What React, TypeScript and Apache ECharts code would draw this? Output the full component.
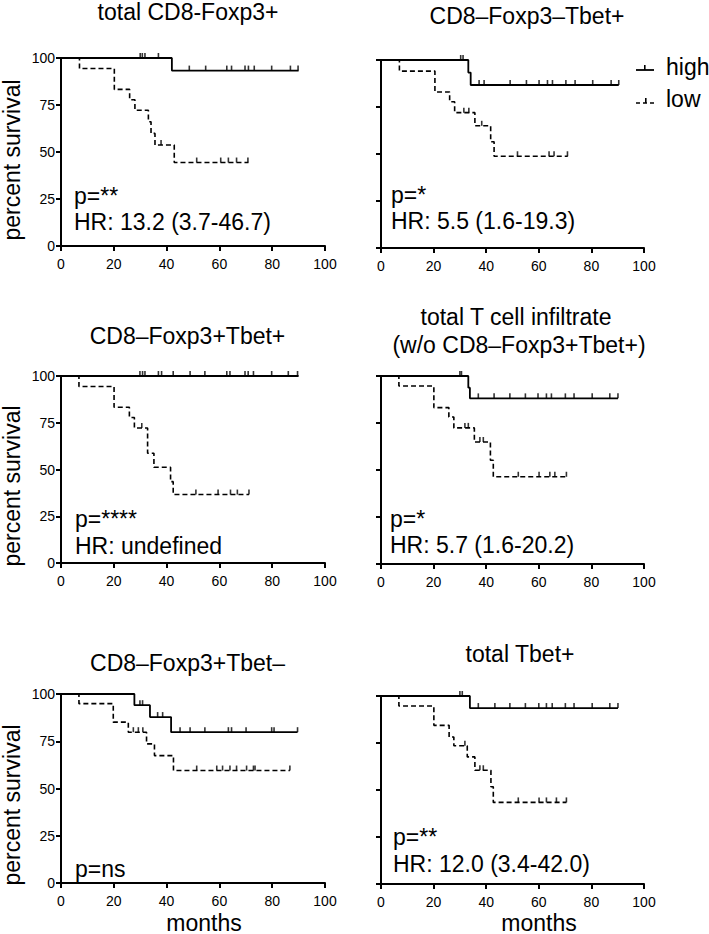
import React, { useEffect, useRef } from "react";
import * as echarts from "echarts";

// ---------- DATA ----------
const xTicks = [0, 20, 40, 60, 80, 100];
const yTicks = [0, 25, 50, 75, 100];

const panelTitles = [
  ["total CD8-Foxp3+"],
  ["CD8–Foxp3–Tbet+"],
  ["CD8–Foxp3+Tbet+"],
  ["total T cell infiltrate", "(w/o CD8–Foxp3+Tbet+)"],
  ["CD8–Foxp3+Tbet–"],
  ["total Tbet+"],
];
const pValues = ["p=**", "p=*", "p=****", "p=*", "p=ns", "p=**"];
const hrValues = ["HR: 13.2 (3.7-46.7)", "HR: 5.5 (1.6-19.3)", "HR: undefined", "HR: 5.7 (1.6-20.2)", "", "HR: 12.0 (3.4-42.0)"];
const legendNames = ["high", "low"];

// panel 1: total CD8-Foxp3+
const p1High = [[0, 100], [42, 93.3], [90, 93.3]];
const p1HighCens = [[30, 100], [30.8, 100], [31.8, 100], [36.9, 100], [48.6, 93.3], [54.8, 93.3], [62.8, 93.3], [64.6, 93.3], [69.7, 93.3], [71, 93.3], [73.2, 93.3], [79.8, 93.3], [86.9, 93.3], [89.8, 93.3]];
const p1Low = [[0, 100], [7, 94.4], [20.2, 83.3], [26, 77.8], [28, 72.2], [33.1, 66.1], [34.1, 59.9], [35.6, 53.7], [42.9, 44.4], [71, 44.4]];
const p1LowCens = [[37.9, 53.7], [51.4, 44.4], [60.5, 44.4], [63.4, 44.4], [66.5, 44.4], [70.8, 44.4]];

// panel 2: CD8–Foxp3–Tbet+
const p2High = [[0, 100], [33.2, 93.3], [34.1, 86.7], [90.4, 86.7]];
const p2HighCens = [[30.3, 100], [31.2, 100], [37.3, 86.7], [39.2, 86.7], [49.1, 86.7], [55.3, 86.7], [60.1, 86.7], [63.3, 86.7], [65.2, 86.7], [70.3, 86.7], [73.8, 86.7], [80.5, 86.7], [87.5, 86.7], [90.4, 86.7]];
const p2Low = [[0, 100], [7, 94.1], [20.5, 83], [26.1, 77.8], [28, 72], [35.7, 65], [41.7, 56.5], [43, 48.8], [71, 48.8]];
const p2LowCens = [[31.5, 72], [33.4, 72], [38.3, 65], [51.9, 48.8], [63.9, 48.8], [65.8, 48.8], [70.9, 48.8]];

// panel 3: CD8–Foxp3+Tbet+
const p3High = [[0, 100], [90, 100]];
const p3HighCens = [[29.9, 100], [30.9, 100], [31.8, 100], [36.9, 100], [38.1, 100], [42.5, 100], [48.9, 100], [54.5, 100], [62.8, 100], [64, 100], [69.7, 100], [70.9, 100], [72.9, 100], [79.8, 100], [86.1, 100], [89.6, 100]];
const p3Low = [[0, 100], [6.8, 94.4], [20.1, 83.3], [25.9, 77.8], [27.8, 72.2], [32.8, 58.7], [35.2, 51.2], [41.5, 43.5], [42.5, 36.6], [71.2, 36.6]];
const p3LowCens = [[30.6, 72.2], [51.1, 36.6], [59.5, 36.6], [64.2, 36.6], [66.8, 36.6], [71.2, 36.6]];

// panel 4: total T cell infiltrate
const p4High = [[0, 100], [33.2, 93.8], [33.8, 88.1], [90.1, 88.1]];
const p4HighCens = [[30, 100], [30.6, 100], [37, 88.1], [43, 88.1], [49, 88.1], [54.9, 88.1], [59.7, 88.1], [62.9, 88.1], [64.8, 88.1], [70.1, 88.1], [73.4, 88.1], [80.3, 88.1], [87, 88.1], [90.1, 88.1]];
const p4Low = [[0, 100], [6.8, 94.7], [20.1, 83.2], [25.8, 78.2], [27.7, 72.4], [35.5, 64.9], [41.6, 55.2], [42.7, 46.4], [70.5, 46.4]];
const p4LowCens = [[31.9, 72.4], [33.2, 72.4], [37.6, 64.9], [38.9, 64.9], [52.2, 46.4], [60.1, 46.4], [64.2, 46.4], [66.1, 46.4], [70.5, 46.4]];

// panel 5: CD8–Foxp3+Tbet–
const p5High = [[0, 100], [27.8, 94.1], [33.7, 87.8], [41.7, 79.8], [89.6, 79.8]];
const p5HighCens = [[29.9, 94.1], [30.9, 94.1], [36.6, 87.8], [38.5, 87.8], [45.1, 79.8], [48.9, 79.8], [54.5, 79.8], [63.4, 79.8], [64.6, 79.8], [70.1, 79.8], [79.8, 79.8], [80.7, 79.8], [89.6, 79.8]];
const p5Low = [[0, 100], [6.8, 94.9], [19.8, 85.1], [25.5, 79.8], [32.4, 73.6], [35.4, 67.4], [42.6, 59.5], [86.7, 59.5]];
const p5LowCens = [[27.4, 79.8], [29.3, 79.8], [31, 79.8], [51.4, 59.5], [59, 59.5], [61.2, 59.5], [64, 59.5], [66.5, 59.5], [70.3, 59.5], [72.9, 59.5], [73.5, 59.5], [86.7, 59.5]];

// panel 6: total Tbet+
const p6High = [[0, 100], [33.8, 93.6], [90.1, 93.6]];
const p6HighCens = [[30, 100], [30.9, 100], [37, 93.6], [43.3, 93.6], [49, 93.6], [54.9, 93.6], [60, 93.6], [62.9, 93.6], [65.1, 93.6], [70.1, 93.6], [73.4, 93.6], [80.3, 93.6], [87, 93.6], [90.1, 93.6]];
const p6Low = [[0, 100], [6.8, 94.7], [20.1, 84.4], [25.9, 78.2], [27.7, 73.5], [32.8, 67.6], [35.7, 60.5], [41.8, 51.7], [42.7, 43.4], [70.5, 43.4]];
const p6LowCens = [[31.9, 73.5], [37.6, 60.5], [38.9, 60.5], [52.2, 43.4], [60.1, 43.4], [62.9, 43.4], [66.7, 43.4], [70.5, 43.4]];

const highCurves = [p1High, p2High, p3High, p4High, p5High, p6High];
const highCensors = [p1HighCens, p2HighCens, p3HighCens, p4HighCens, p5HighCens, p6HighCens];
const lowCurves = [p1Low, p2Low, p3Low, p4Low, p5Low, p6Low];
const lowCensors = [p1LowCens, p2LowCens, p3LowCens, p4LowCens, p5LowCens, p6LowCens];

// ---------- LAYOUT ----------
const grids = [
  { left: 61, top: 58, width: 264, height: 188 },
  { left: 381, top: 60, width: 263, height: 188 },
  { left: 61, top: 376, width: 264, height: 187 },
  { left: 381, top: 376, width: 263, height: 188 },
  { left: 61, top: 694, width: 264, height: 189 },
  { left: 381, top: 696, width: 263, height: 188 },
];
const titlePos = [
  [[188, 12]],
  [[527, 15.5]],
  [[187.5, 336]],
  [[516, 317], [519, 345]],
  [[187.5, 663]],
  [[520, 654]],
];
const pPos = [[74, 196], [391, 195], [75, 519], [390, 519], [75, 869], [393, 837]];
const hrPos = [[74, 222], [391, 221], [75, 546], [390, 545], [75, 0], [393, 864]];
const yNamePos = [[11.5, 160], [11.5, 486], [11.5, 805]];
const monthsPos = [[204, 934], [539, 934]];

const FONT = "'Liberation Sans', Arial, Helvetica, sans-serif";
const BLACK = "#000";

function buildOption() {
  const xAxis: any[] = [];
  const yAxis: any[] = [];
  const series: any[] = [];
  const graphic: any[] = [];

  grids.forEach((g, i) => {
    const leftCol = i % 2 === 0;
    xAxis.push({
      type: "value",
      gridIndex: i,
      min: xTicks[0],
      max: xTicks[xTicks.length - 1],
      interval: xTicks[1] - xTicks[0],
      axisLine: { show: true, onZero: false, lineStyle: { color: BLACK, width: 2 } },
      axisTick: { show: true, length: 5, lineStyle: { color: BLACK, width: 2 } },
      axisLabel: { show: true, margin: 11, fontSize: 14, color: BLACK, fontFamily: FONT },
      splitLine: { show: false },
    });
    yAxis.push({
      type: "value",
      gridIndex: i,
      min: yTicks[0],
      max: yTicks[yTicks.length - 1],
      interval: yTicks[1] - yTicks[0],
      axisLine: { show: true, onZero: false, lineStyle: { color: BLACK, width: 2 } },
      axisTick: { show: true, length: 5, lineStyle: { color: BLACK, width: 2 } },
      axisLabel: { show: leftCol, margin: 6, fontSize: 14, color: BLACK, fontFamily: FONT },
      splitLine: { show: false },
    });

    series.push({
      type: "line",
      name: legendNames[0],
      xAxisIndex: i,
      yAxisIndex: i,
      data: highCurves[i],
      step: "end",
      symbol: "none",
      clip: false,
      lineStyle: { color: BLACK, width: 1.8 },
      z: 3,
    });
    series.push({
      type: "line",
      name: legendNames[1],
      xAxisIndex: i,
      yAxisIndex: i,
      data: lowCurves[i],
      step: "end",
      symbol: "none",
      clip: false,
      lineStyle: { color: BLACK, width: 1.6, type: [5, 3] },
      z: 2,
    });
    series.push({
      type: "scatter",
      xAxisIndex: i,
      yAxisIndex: i,
      data: highCensors[i],
      symbol: "rect",
      symbolSize: [1.6, 5],
      symbolOffset: [0, -2.5],
      clip: false,
      itemStyle: { color: BLACK },
      z: 4,
    });
    series.push({
      type: "scatter",
      xAxisIndex: i,
      yAxisIndex: i,
      data: lowCensors[i],
      symbol: "rect",
      symbolSize: [1.6, 5],
      symbolOffset: [0, -2.5],
      clip: false,
      itemStyle: { color: BLACK },
      z: 4,
    });

    panelTitles[i].forEach((t, k) => {
      graphic.push({
        type: "text",
        x: titlePos[i][k][0],
        y: titlePos[i][k][1],
        style: { text: t, font: `23px ${FONT}`, fill: BLACK, align: "center", verticalAlign: "middle" },
      });
    });
    graphic.push({
      type: "text",
      x: pPos[i][0],
      y: pPos[i][1],
      style: { text: pValues[i], font: `23px ${FONT}`, fill: BLACK, align: "left", verticalAlign: "middle" },
    });
    if (hrValues[i]) {
      graphic.push({
        type: "text",
        x: hrPos[i][0],
        y: hrPos[i][1],
        style: { text: hrValues[i], font: `23px ${FONT}`, fill: BLACK, align: "left", verticalAlign: "middle" },
      });
    }
  });

  yNamePos.forEach((p) => {
    graphic.push({
      type: "text",
      x: p[0],
      y: p[1],
      rotation: Math.PI / 2,
      style: { text: "percent survival", font: `23px ${FONT}`, fill: BLACK, align: "center", verticalAlign: "middle" },
    });
  });
  monthsPos.forEach((p) => {
    graphic.push({
      type: "text",
      x: p[0],
      y: p[1],
      style: { text: "months", font: `23px ${FONT}`, fill: BLACK, align: "center", verticalAlign: "bottom" },
    });
  });

  // legend
  graphic.push({ type: "line", shape: { x1: 636, y1: 70, x2: 654, y2: 70 }, style: { stroke: BLACK, lineWidth: 1.8 } });
  graphic.push({ type: "rect", shape: { x: 644, y: 65, width: 1.6, height: 5 }, style: { fill: BLACK } });
  graphic.push({ type: "text", x: 666, y: 67, style: { text: legendNames[0], font: `23px ${FONT}`, fill: BLACK, align: "left", verticalAlign: "middle" } });
  graphic.push({ type: "line", shape: { x1: 636, y1: 103, x2: 654, y2: 103 }, style: { stroke: BLACK, lineWidth: 1.6, lineDash: [4, 3] } });
  graphic.push({ type: "rect", shape: { x: 645, y: 98, width: 1.6, height: 5 }, style: { fill: BLACK } });
  graphic.push({ type: "text", x: 666, y: 99, style: { text: legendNames[1], font: `23px ${FONT}`, fill: BLACK, align: "left", verticalAlign: "middle" } });

  return {
    animation: false,
    backgroundColor: "#fff",
    grid: grids.map((g) => ({ ...g, containLabel: false })),
    xAxis,
    yAxis,
    series,
    graphic,
  };
}

export default function App() {
  const ref = useRef<HTMLDivElement>(null);
  useEffect(() => {
    if (!ref.current) return;
    const chart = echarts.init(ref.current, undefined, { renderer: "svg" });
    chart.setOption(buildOption() as any);
    return () => chart.dispose();
  }, []);
  return (
    <div
      ref={ref}
      style={{ position: "absolute", left: 0, top: 0, width: 709, height: 934, background: "#fff" }}
    />
  );
}
